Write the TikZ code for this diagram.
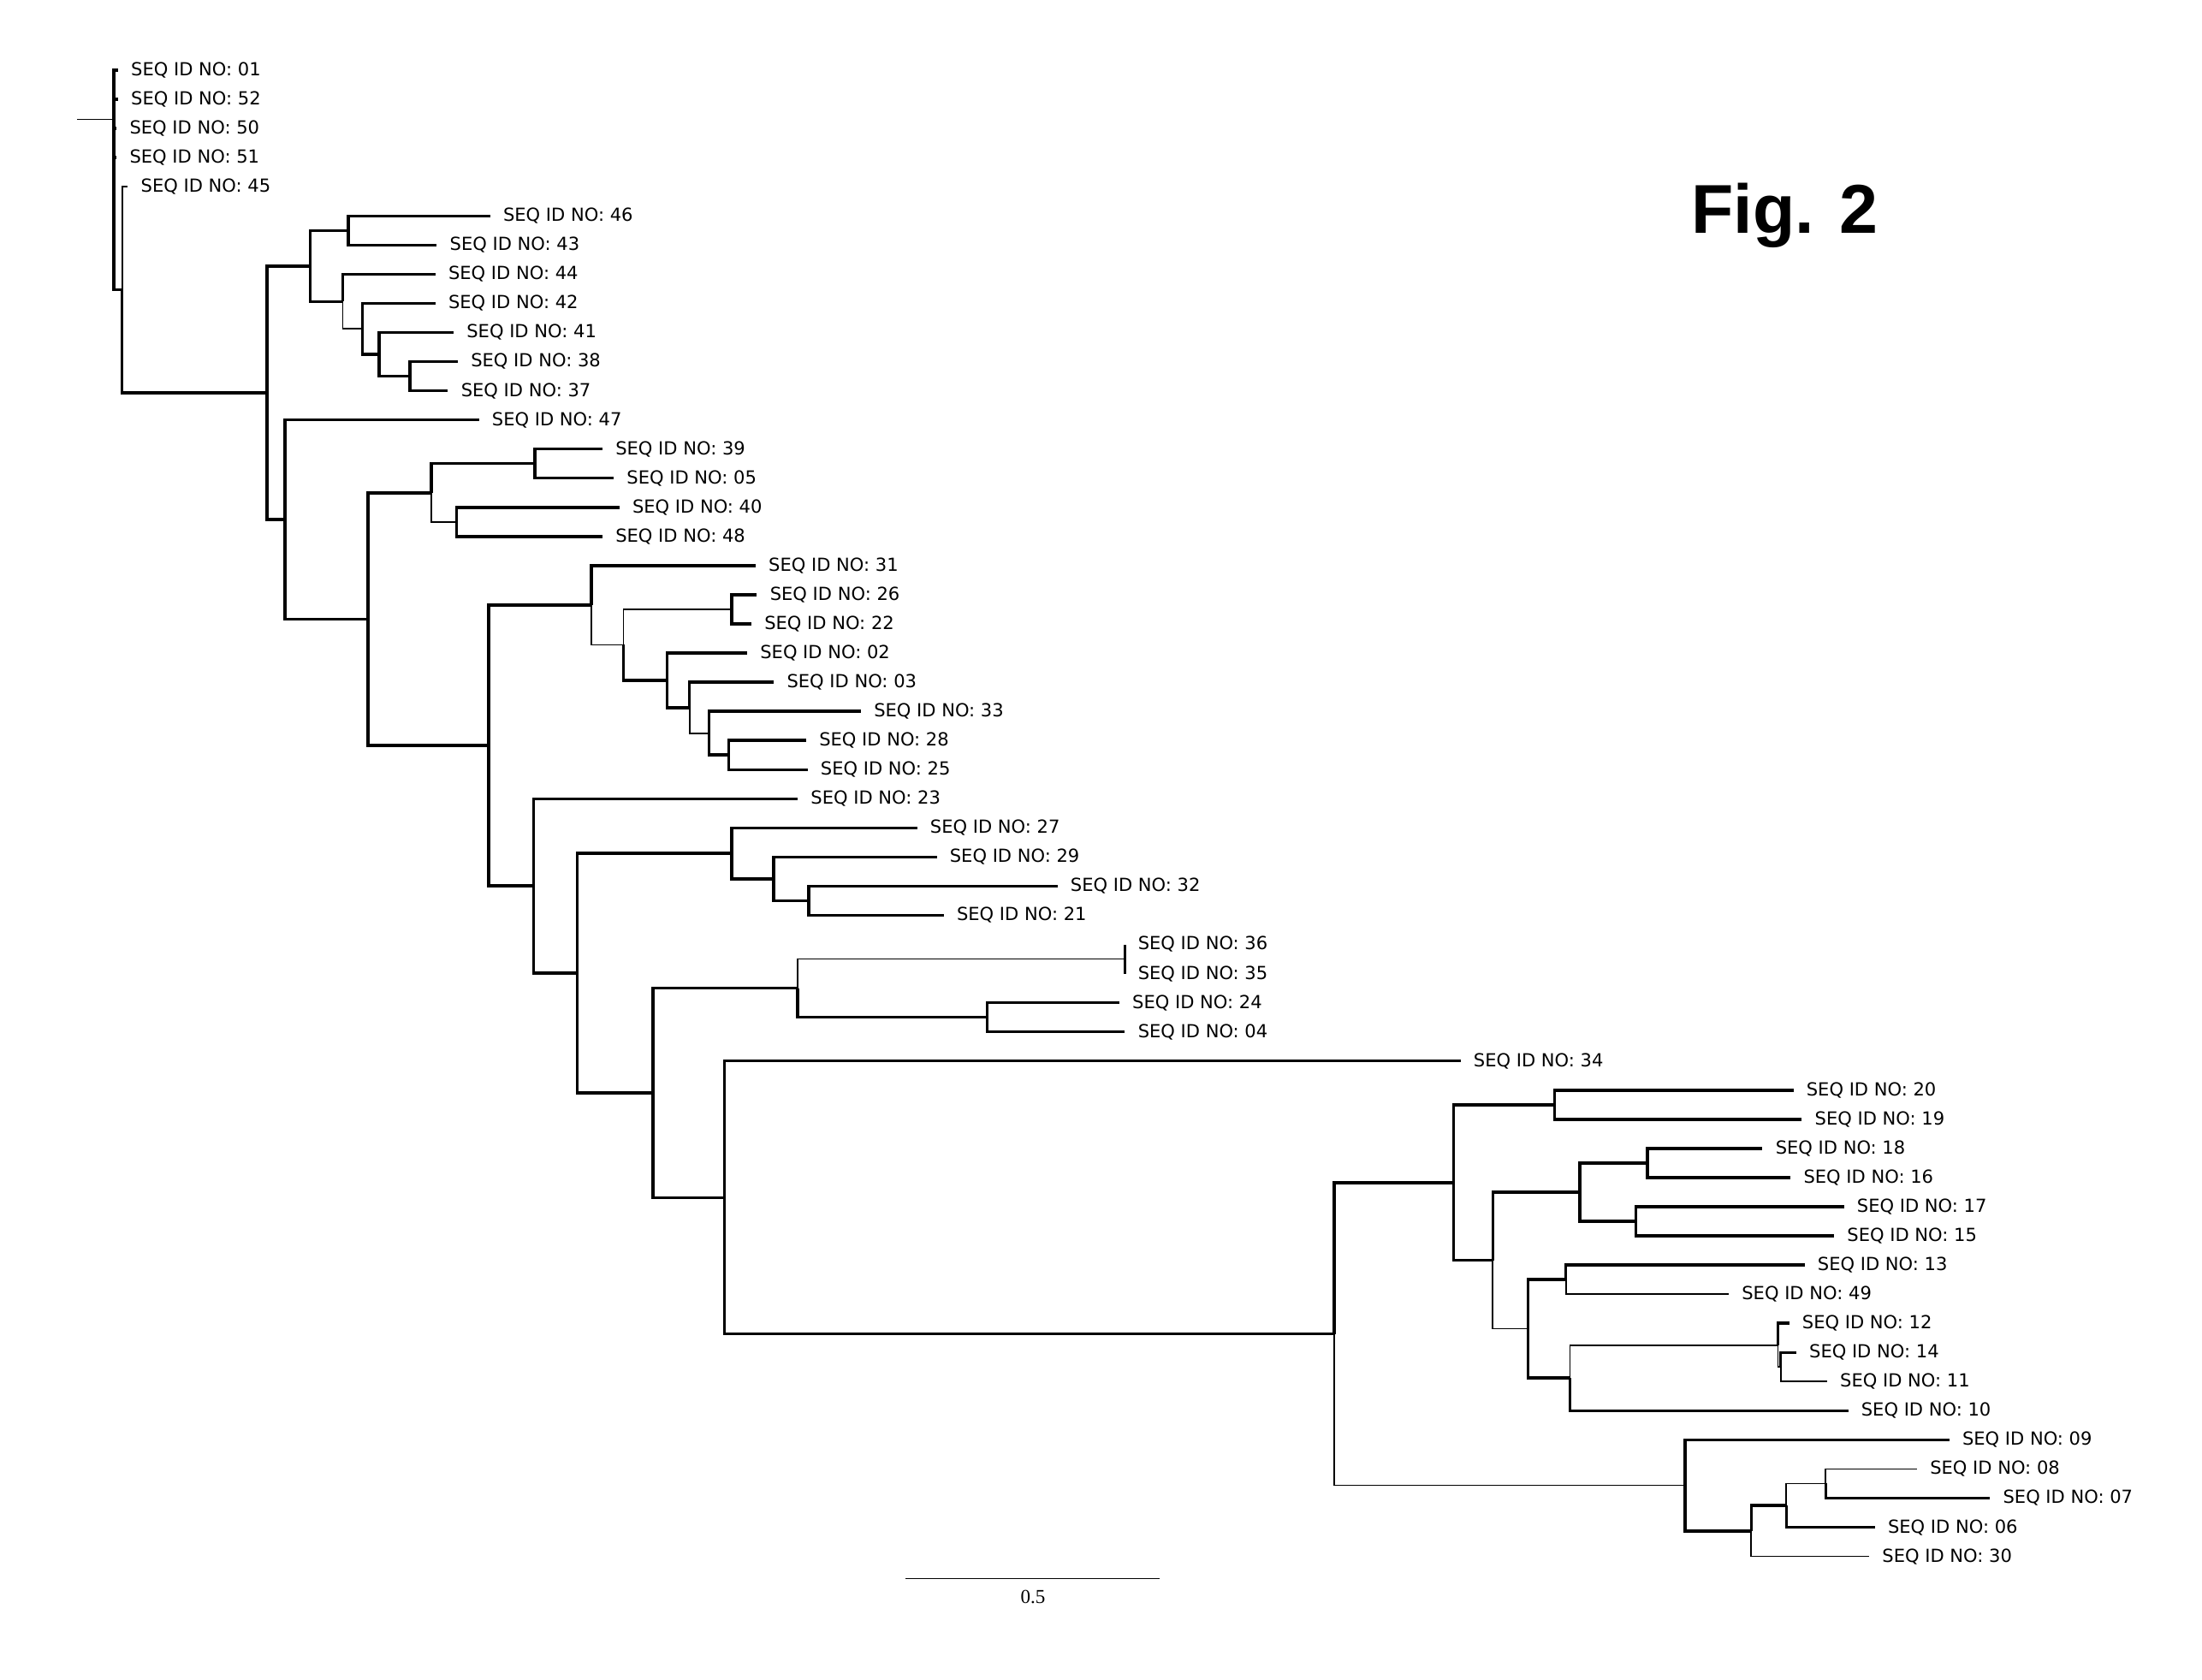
\documentclass[tikz,border=0pt]{standalone}
\usepackage{fontspec}
\setmainfont{DejaVu Sans}
\newfontfamily\figfont{Liberation Sans}
\newfontfamily\barfont{Liberation Serif}
\tikzset{
  br/.style={line width=1.2pt},
  thinbr/.style={line width=0.6pt},
  lab/.style={anchor=west, inner sep=0pt, xshift=0.18cm, font=\fontsize{7.3}{8}\selectfont},
}
\begin{document}
\begin{tikzpicture}[x=0.02cm, y=-0.02cm]
  \useasboundingbox (0,0) rectangle (1568,1196);
  \foreach \n/\x/\y in {01/84/50, 52/84/70.75, 50/83/91.5, 51/83/112.25, 45/91/133,
      46/349/153.75, 43/311/174.5, 44/310/195.25, 42/310/216, 41/323/236.75,
      38/326/257.5, 37/319/278.25, 47/341/299, 39/429/319.75, 05/437/340.5,
      40/441/361.25, 48/429/382, 31/538/402.75, 26/539/423.5, 22/535/444.25,
      02/532/465, 03/551/485.75, 33/613/506.5, 28/574/527.25, 25/575/548,
      23/568/568.75, 27/653/589.5, 29/667/610.25, 32/753/631, 21/672/651.75,
      36/801/672.5, 35/801/693.25, 24/797/714, 04/801/734.75, 34/1040/755.5,
      20/1277/776.25, 19/1283/797, 18/1255/817.75, 16/1275/838.5, 17/1313/859.25,
      15/1306/880, 13/1285/900.75, 49/1231/921.5, 12/1274/942.25, 14/1279/963,
      11/1301/983.75, 10/1316/1004.5, 09/1388/1025.25, 08/1365/1046,
      07/1417/1066.75, 06/1335/1087.5, 30/1331/1108.25} {
    \coordinate (t\n) at (\x,\y);
    \node[lab] (l\n) at (t\n) {SEQ ID NO: \n};
  }
  \foreach \n/\x/\y in {top/81/85, top2/87/206.35, n190/190/279.7, n221/221/189.4,
      n248/248/164.13, n244/244/214.7, n258/258/234.16, n270/270/252.31,
      n292/292/267.88, n203/203/369.95, n262/262/440.9, n307/307/350.88,
      n381/381/330.13, n325/325/371.63, n348/348/530.9, n421/421/430.96,
      n444/444/459.16, n521/521/433.88, n475/475/484.45, n491/491/503.9,
      n505/505/522.06, n519/519/537.63, n380/380/630.8, n411/411/692.9,
      n520/521/607.66, n551/551/625.81, n576/576/641.38, n465/465/778.16,
      n568/568/703.63, n801/801/682.88, n703/703/724.38, n516/516/852.69,
      n950/950/949.87, n1035/1035/842.06, n1107/1107/786.63, n1063/1063/897.5,
      n1125/1125/848.88, n1173/1173/828.13, n1165/1165/869.63, n1088/1088/946.14,
      n1115/1115/911.13, n1118/1118/981.16, n1266/1266/957.81, n1268/1268/973.38,
      n1200/1200/1057.67, n1247/1247/1090.1, n1272/1272/1071.94, n1300/1300/1056.38}
    \coordinate (\n) at (\x,\y);
  \coordinate (rt) at (55,85);
  \draw[thinbr] (rt) -- (top);
  \foreach \p/\c/\w in {top/t01/br, top/t52/br, top/t50/br, top/t51/br, top/top2/br,
      top2/t45/thinbr, top2/n190/br,
      n190/n221/br, n190/n203/br, n221/n248/br, n221/n244/br, n248/t46/br, n248/t43/br,
      n244/t44/br, n244/n258/thinbr, n258/t42/br, n258/n270/br, n270/t41/br,
      n270/n292/br, n292/t38/br, n292/t37/br,
      n203/t47/br, n203/n262/br, n262/n307/br, n262/n348/br, n307/n381/br,
      n307/n325/thinbr, n381/t39/br, n381/t05/br, n325/t40/br, n325/t48/br,
      n348/n421/br, n348/n380/br, n421/t31/br, n421/n444/thinbr, n444/n521/thinbr,
      n444/n475/br, n521/t26/br, n521/t22/br, n475/t02/br, n475/n491/br,
      n491/t03/br, n491/n505/thinbr, n505/t33/br, n505/n519/br, n519/t28/br, n519/t25/br,
      n380/t23/br, n380/n411/br, n411/n520/br, n411/n465/br, n520/t27/br,
      n520/n551/br, n551/t29/br, n551/n576/br, n576/t32/br, n576/t21/br,
      n465/n568/br, n465/n516/br, n568/n801/thinbr, n568/n703/br, n801/t36/br,
      n801/t35/br, n703/t24/br, n703/t04/br,
      n516/t34/br, n516/n950/br, n950/n1035/br, n950/n1200/thinbr, n1035/n1107/br,
      n1035/n1063/br, n1107/t20/br, n1107/t19/br, n1063/n1125/br, n1063/n1088/thinbr,
      n1125/n1173/br, n1125/n1165/br, n1173/t18/br, n1173/t16/br, n1165/t17/br,
      n1165/t15/br, n1088/n1115/br, n1088/n1118/br, n1115/t13/br, n1115/t49/thinbr,
      n1118/n1266/thinbr, n1118/t10/br, n1266/t12/br, n1266/n1268/thinbr,
      n1268/t14/br, n1268/t11/thinbr,
      n1200/t09/br, n1200/n1247/br, n1247/n1272/br, n1247/t30/thinbr,
      n1272/n1300/thinbr, n1272/t06/br, n1300/t08/thinbr, n1300/t07/br}
    \draw[\w] (\p) |- (\c);
  \node[anchor=base west, inner sep=0pt, font=\figfont\bfseries\fontsize{28}{30}\selectfont] (fig) at (1204,166) {Fig. 2};
  \coordinate (s1) at (645,1124);
  \coordinate (s2) at (826,1124);
  \draw[thinbr] (s1) -- (s2);
  \node[font=\barfont\fontsize{8}{9}\selectfont] (sbl) at (735.5,1137) {0.5};
\end{tikzpicture}
\end{document}
